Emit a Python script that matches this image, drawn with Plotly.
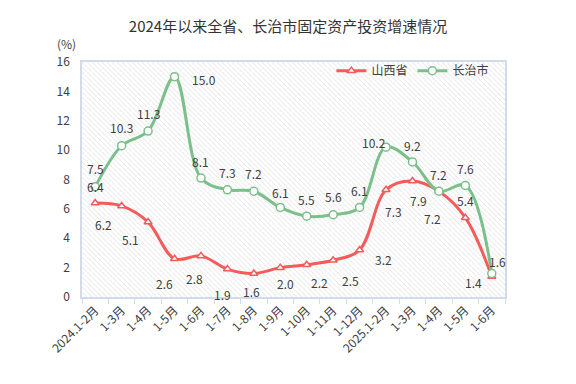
import plotly.graph_objects as go
import base64

categories = ["2024.1-2月", "1-3月", "1-4月", "1-5月", "1-6月", "1-7月", "1-8月", "1-9月",
              "1-10月", "1-11月", "1-12月", "2025.1-2月", "1-3月", "1-4月", "1-5月", "1-6月"]
shanxi = [6.4, 6.2, 5.1, 2.6, 2.8, 1.9, 1.6, 2.0, 2.2, 2.5, 3.2, 7.3, 7.9, 7.2, 5.4, 1.4]
changzhi = [7.5, 10.3, 11.3, 15.0, 8.1, 7.3, 7.2, 6.1, 5.5, 5.6, 6.1, 10.2, 9.2, 7.2, 7.6, 1.6]

# label offsets in screen px (dx right, dy down)
shanxi_lbl = [(0, -17), (-18, 19), (-18, 17), (-10, 25), (-6, 23), (-5, 25), (-2, 18), (5, 16),
              (13, 18), (17, 20), (24, 9), (7, 22), (6, 20), (-6, 27), (0, -17), (-18, 6)]
changzhi_lbl = [(0, -18), (0, -18), (0, -18), (29, 3), (0, -17), (0, -17), (0, -18), (0, -15),
                (0, -17), (0, -18), (0, -17), (-12, -5), (0, -16), (0, -17), (0, -17), (6, -12)]

RED = "#F45B5B"
GREEN = "#7CBF8B"
TXT = "#404040"
AXC = "#D3DAE8"

x = list(range(len(categories)))

fig = go.Figure()
fig.add_trace(go.Scatter(
    x=x, y=shanxi, name="山西省", mode="lines+markers",
    line=dict(color=RED, width=3, shape="spline", smoothing=1.0),
    marker=dict(symbol="triangle-up", size=7, color="white", line=dict(color=RED, width=1.5)),
))
fig.add_trace(go.Scatter(
    x=x, y=changzhi, name="长治市", mode="lines+markers",
    line=dict(color=GREEN, width=3, shape="spline", smoothing=1.0),
    marker=dict(symbol="circle", size=8, color="white", line=dict(color=GREEN, width=1.5)),
))

ann = []
for vals, offs in ((shanxi, shanxi_lbl), (changzhi, changzhi_lbl)):
    for i, (v, (dx, dy)) in enumerate(zip(vals, offs)):
        ann.append(dict(x=i, y=v, xref="x", yref="y", text=f"{v:.1f}", showarrow=False,
                        xshift=dx, yshift=-dy, font=dict(size=12, color=TXT)))
ann.append(dict(x=-0.036, y=1.078, xref="paper", yref="paper", text="(%)", showarrow=False,
                xanchor="center", yanchor="middle", font=dict(size=12, color=TXT)))

svg = ('<svg xmlns="http://www.w3.org/2000/svg" width="423" height="235" preserveAspectRatio="none">'
       '<defs><pattern id="p" width="5" height="5" patternUnits="userSpaceOnUse">'
       '<path d="M0,0 L5,5" stroke="#EDEDED" stroke-width="1.2"/></pattern></defs>'
       '<rect width="423" height="235" fill="white"/><rect width="423" height="235" fill="url(#p)"/></svg>')
src = "data:image/svg+xml;base64," + base64.b64encode(svg.encode()).decode()

fig.update_layout(
    width=576, height=384,
    margin=dict(l=82, r=71, t=62, b=87),
    paper_bgcolor="white", plot_bgcolor="white",
    font=dict(family="Noto Sans CJK SC, sans-serif", size=12, color=TXT),
    title=dict(text="2024年以来全省、长治市固定资产投资增速情况", x=0.5, xanchor="center",
               y=1 - 27 / 384, yanchor="middle", font=dict(size=15, color="#333333")),
    showlegend=True,
    legend=dict(orientation="h", x=0.975, xanchor="right", y=1.025, yanchor="top",
                bgcolor="rgba(0,0,0,0)", font=dict(size=12, color=TXT), itemwidth=30),
    annotations=ann,
    images=[dict(source=src, xref="paper", yref="paper", x=0, y=1, sizex=1, sizey=1,
                 xanchor="left", yanchor="top", sizing="stretch", layer="below")],
)
fig.update_xaxes(
    range=[-0.5, len(categories) - 0.5], tickvals=x, ticktext=categories, tickangle=-45,
    ticks="", showgrid=False, zeroline=False, showline=True, linecolor=AXC, linewidth=1.5, mirror=True,
    tickfont=dict(size=12, color=TXT),
    minor=dict(tickvals=[i - 0.5 for i in range(len(categories) + 1)], ticks="outside",
               ticklen=5, tickcolor=AXC, tickwidth=1, showgrid=False),
)
fig.update_yaxes(
    range=[0, 16], tickvals=list(range(0, 17, 2)), showgrid=False, zeroline=False,
    showline=True, linecolor=AXC, linewidth=1.5, mirror=True, ticks="", ticklabelstandoff=8,
    tickfont=dict(size=12, color=TXT),
)

fig.write_html("out.html", config={"displayModeBar": False},
               post_script="document.body.style.margin='0';")
